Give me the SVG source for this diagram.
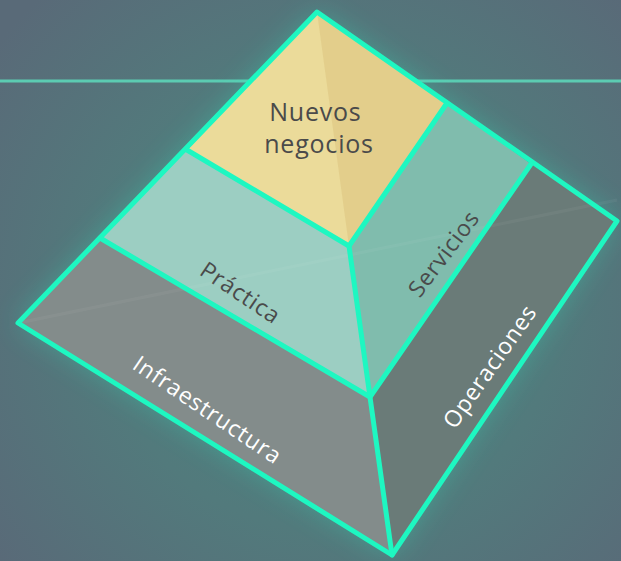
<svg xmlns="http://www.w3.org/2000/svg" width="621" height="561" viewBox="0 0 621 561">
  <defs>
    <radialGradient id="bg" cx="330" cy="300" r="420" gradientUnits="userSpaceOnUse">
      <stop offset="0" stop-color="#4b8480"/>
      <stop offset="0.55" stop-color="#527a7c"/>
      <stop offset="1" stop-color="#596a78"/>
    </radialGradient>
    <filter id="glow" x="-20%" y="-20%" width="140%" height="140%">
      <feGaussianBlur stdDeviation="14"/>
    </filter>
    <style>
      .edge{fill:none;stroke:#1ef7c1;stroke-width:5;stroke-linejoin:round;stroke-linecap:round}
      .lbl{font-family:"Open Sans","Liberation Sans",sans-serif;font-size:23px;letter-spacing:0.8px;text-anchor:middle;dominant-baseline:central}
      .dark{fill:#4a4a4a}
      .light{fill:#ffffff}
    </style>
  </defs>
  <rect width="621" height="561" fill="url(#bg)"/>
  <line x1="0" y1="81" x2="621" y2="81" stroke="#5ccbb2" stroke-width="3"/>
  <polygon points="317,12 617,221 392,555 18,323" fill="#2ee8bf" opacity="0.35" filter="url(#glow)"/>

  <g id="infraestructura">
    <polygon points="100,238 370,397 392,555 18,323" fill="#838c8b"/>
    <text class="lbl light" transform="translate(208,409) rotate(34)">Infraestructura</text>
  </g>
  <g id="operaciones">
    <polygon points="531,164 617,221 392,555 370,397" fill="#6a7b78"/>
    <text class="lbl light" transform="translate(489,366) rotate(-55)">Operaciones</text>
  </g>
  <g id="practica">
    <polygon points="187,150 349,246 370,397 100,238" fill="#9ccec2"/>
    <text class="lbl dark" transform="translate(241,292) rotate(34)">Práctica</text>
  </g>
  <g id="servicios">
    <polygon points="447,103 531,164 370,397 349,246" fill="#80bcad"/>
    <text class="lbl dark" transform="translate(443,253) rotate(-53)">Servicios</text>
  </g>
  <g id="nuevos-negocios">
    <polygon points="317,12 447,103 349,246 187,150" fill="#ebdb9a"/>
    <polygon points="317,12 447,103 349,246" fill="#dfc985" opacity="0.7"/>
    <text class="dark" font-family="Open Sans, Liberation Sans, sans-serif" font-size="25" letter-spacing="0.8" text-anchor="middle">
      <tspan x="319" y="121">Nuevos</tspan>
      <tspan x="319" y="153">negocios</tspan>
    </text>
  </g>
  <line x1="18" y1="323" x2="617" y2="200" stroke="#ffffff" stroke-width="3" opacity="0.04"/>

  <g id="connectors">
    <polygon class="edge" points="317,12 617,221 392,555 18,323"/>
    <polyline class="edge" points="187,150 349,246 447,103"/>
    <polyline class="edge" points="100,238 370,397 531,164"/>
    <polyline class="edge" points="349,246 370,397 392,555"/>
  </g>
</svg>
